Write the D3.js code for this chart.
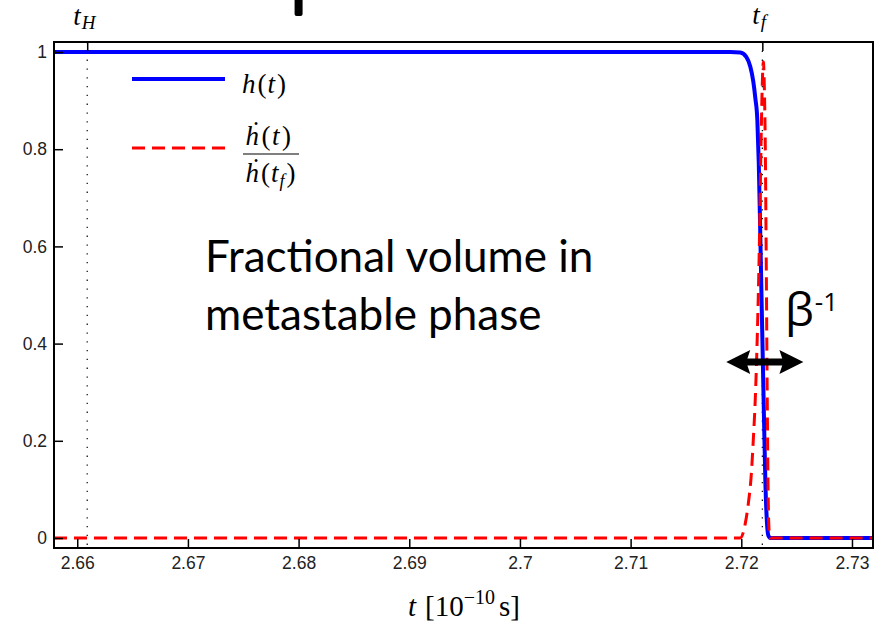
<!DOCTYPE html>
<html>
<head>
<meta charset="utf-8">
<script src="https://cdn.jsdelivr.net/npm/d3@7/dist/d3.min.js"></script>
<style>
  body { margin: 0; background: #fff; }
  text { font-family: "Liberation Sans", Arial, sans-serif; }
  .math { font-family: "Liberation Serif", "DejaVu Serif", serif; }
</style>
</head>
<body>
<div id="chart"></div>
<script>
// h(t): fractional volume in the metastable phase
var hTime = [2.6579, 2.7190, 2.71991, 2.72045, 2.72081, 2.72108, 2.72127, 2.72145,
             2.72158, 2.72172, 2.72185, 2.72202, 2.72217, 2.72231, 2.72244, 2.72262, 2.7320];
var hValue = [1, 1, 0.999, 0.99, 0.97, 0.94, 0.905, 0.86,
              0.77, 0.62, 0.47, 0.28, 0.12, 0.035, 0.005, 0, 0];

// hdot(t) / hdot(t_f)
var rTime = [2.6579, 2.7199, 2.72036, 2.72063, 2.72090, 2.72108, 2.72127, 2.72145, 2.72163,
             2.72176, 2.72188, 2.72199, 2.72208, 2.72217, 2.72226, 2.72235, 2.72244,
             2.72253, 2.72262, 2.7320];
var rValue = [0, 0, 0.03, 0.07, 0.13, 0.2, 0.29, 0.42, 0.6,
              0.78, 0.92, 0.98, 0.93, 0.8, 0.55, 0.27, 0.07,
              0.01, 0, 0];

var xTicks = [2.66, 2.67, 2.68, 2.69, 2.70, 2.71, 2.72, 2.73];
var yTicks = [0, 0.2, 0.4, 0.6, 0.8, 1];
var tH = 2.6609, tF = 2.7219;     // marked times on the top axis
var betaSpan = [2.71864, 2.72561]; // ends of the beta^-1 arrow

var margin = { top: 42, right: 11, bottom: 76, left: 54 },
    width = 884 - margin.left - margin.right,
    height = 624 - margin.top - margin.bottom;

var x = d3.scaleLinear().domain([2.6579, 2.7319]).range([0, width]);
var y = d3.scaleLinear().domain([-0.0206, 1.0206]).range([height, 0]);

var root = d3.select("#chart").append("svg")
    .attr("width", 884)
    .attr("height", 624);

var svg = root.append("g")
    .attr("transform", "translate(" + margin.left + "," + margin.top + ")");

svg.append("clipPath").attr("id", "clip")
  .append("rect").attr("width", width).attr("height", height);

// dotted guides at t_H and t_f
[tH, tF].forEach(function (t) {
  svg.append("line")
      .attr("x1", x(t)).attr("x2", x(t))
      .attr("y1", 0).attr("y2", height)
      .attr("stroke", "#000").attr("stroke-width", 1.2)
      .attr("stroke-dasharray", "1.3,7.5");
});

var line = d3.line()
    .x(function (d) { return x(d[0]); })
    .y(function (d) { return y(d[1]); })
    .curve(d3.curveMonotoneX);

var hData = hTime.map(function (t, i) { return [t, hValue[i]]; });
var rData = rTime.map(function (t, i) { return [t, rValue[i]]; });

var plot = svg.append("g").attr("clip-path", "url(#clip)");

plot.append("path").datum(hData)
    .attr("d", line)
    .attr("fill", "none")
    .attr("stroke", "#0000ff")
    .attr("stroke-width", 4);

plot.append("path").datum(rData)
    .attr("d", line)
    .attr("fill", "none")
    .attr("stroke", "#ff0000")
    .attr("stroke-width", 3)
    .attr("stroke-dasharray", "13,7");

// axes (ticks point inwards)
var fmt = d3.format("~g");

var xAxis = svg.append("g")
    .attr("transform", "translate(0," + height + ")")
    .call(d3.axisBottom(x).tickValues(xTicks).tickFormat(fmt)
      .tickSize(-9).tickSizeOuter(0).tickPadding(9));

var yAxis = svg.append("g")
    .call(d3.axisLeft(y).tickValues(yTicks).tickFormat(fmt)
      .tickSize(-9).tickSizeOuter(0).tickPadding(7));

var topAxis = svg.append("g")
    .call(d3.axisTop(x).tickValues([tH, tF]).tickFormat("")
      .tickSize(-9).tickSizeOuter(0));

[xAxis, yAxis, topAxis].forEach(function (g) {
  g.select(".domain").remove();
  g.selectAll(".tick line").attr("stroke", "#000").attr("stroke-width", 1.5);
  g.selectAll(".tick text")
      .attr("fill", "#222")
      .style("font-family", "'Liberation Sans', Arial, sans-serif")
      .style("font-size", "17.5px");
});

// frame
svg.append("rect")
    .attr("width", width).attr("height", height)
    .attr("fill", "none").attr("stroke", "#000").attr("stroke-width", 2);

// top labels t_H and t_f
function subLabel(t, sub, yPos, dx) {
  var tx = root.append("text").attr("class", "math")
      .attr("x", margin.left + x(t) + dx).attr("y", yPos)
      .style("font-size", "27px").style("font-style", "italic");
  tx.append("tspan").text("t");
  tx.append("tspan").attr("dy", 4).attr("dx", 1)
      .style("font-size", "19px").text(sub);
}
subLabel(tH, "H", 25, -14);
subLabel(tF, "f", 24, -10);

// cut-off black marker above the plot
root.append("rect")
    .attr("x", margin.left + x(2.68) - 4).attr("y", -4)
    .attr("width", 8).attr("height", 20).attr("rx", 2)
    .attr("fill", "#000");

// legend
var lx = 132, ly1 = 79, ly2 = 148;
root.append("line").attr("x1", lx).attr("x2", lx + 93)
    .attr("y1", ly1).attr("y2", ly1)
    .attr("stroke", "#0000ff").attr("stroke-width", 4);
root.append("line").attr("x1", lx).attr("x2", lx + 93)
    .attr("y1", ly2).attr("y2", ly2)
    .attr("stroke", "#ff0000").attr("stroke-width", 3)
    .attr("stroke-dasharray", "13,7");

function mathH(sel, dotted, sub) {
  sel.append("tspan").style("font-style", "italic").text(dotted ? "\u1E23" : "h");
  sel.append("tspan").attr("dx", 1).text("(");
  sel.append("tspan").style("font-style", "italic").text("t");
  if (sub) {
    sel.append("tspan").attr("dy", 5).style("font-size", "18px").style("font-style", "italic").text(sub);
    sel.append("tspan").attr("dy", -5).attr("dx", 1).text(")");
  } else {
    sel.append("tspan").attr("dx", 1).text(")");
  }
}

var l1 = root.append("text").attr("class", "math")
    .attr("x", 242).attr("y", 93).style("font-size", "27px").style("letter-spacing", "1px");
mathH(l1, false);

var num = root.append("text").attr("class", "math")
    .attr("x", 269).attr("y", 145).attr("text-anchor", "middle")
    .style("font-size", "27px").style("letter-spacing", "1.5px");
mathH(num, true);
root.append("line").attr("x1", 243).attr("x2", 299)
    .attr("y1", 154).attr("y2", 154)
    .attr("stroke", "#000").attr("stroke-width", 1.2);
var den = root.append("text").attr("class", "math")
    .attr("x", 271).attr("y", 182).attr("text-anchor", "middle")
    .style("font-size", "27px").style("letter-spacing", "1px");
mathH(den, true, "f");

// annotation
var ann = root.append("text")
    .style("font-family", "Lato, 'Open Sans', sans-serif")
    .style("font-size", "38px")
    .attr("fill", "#000");
ann.append("tspan").attr("x", 205).attr("y", 272).text("Fractional volume in");
ann.append("tspan").attr("x", 205).attr("y", 330).text("metastable phase");
var w = ann.select("tspan").node().getComputedTextLength();
ann.style("font-size", (38 * 388 / w).toFixed(1) + "px");

var beta = root.append("text")
    .style("font-family", "'Open Sans', Lato, sans-serif")
    .attr("x", 785).attr("y", 326).style("font-size", "46px");
beta.append("tspan").text("\u03B2");
beta.append("tspan").attr("dy", -15).attr("dx", 1).style("font-size", "26px").text("-1");

// double-headed arrow for beta^-1
var ax1 = margin.left + x(betaSpan[0]), ax2 = margin.left + x(betaSpan[1]), ay = 362;
root.append("line").attr("x1", ax1 + 15).attr("x2", ax2 - 15)
    .attr("y1", ay).attr("y2", ay)
    .attr("stroke", "#000").attr("stroke-width", 7);
root.append("path")
    .attr("d", "M" + ax1 + "," + ay + " L" + (ax1 + 24) + "," + (ay - 12) +
               " L" + (ax1 + 20) + "," + ay + " L" + (ax1 + 24) + "," + (ay + 12) + "Z")
    .attr("fill", "#000");
root.append("path")
    .attr("d", "M" + ax2 + "," + ay + " L" + (ax2 - 24) + "," + (ay - 12) +
               " L" + (ax2 - 20) + "," + ay + " L" + (ax2 - 24) + "," + (ay + 12) + "Z")
    .attr("fill", "#000");

// x-axis title: t [10^-10 s]
var xl = root.append("text").attr("class", "math")
    .attr("x", 408).attr("y", 616).style("font-size", "29px");
xl.append("tspan").style("font-style", "italic").text("t");
xl.append("tspan").attr("dx", 9).text("[10");
xl.append("tspan").attr("dy", -12).style("font-size", "20px").text("\u221210");
xl.append("tspan").attr("dy", 12).attr("dx", 4).text("s]");
</script>
</body>
</html>
